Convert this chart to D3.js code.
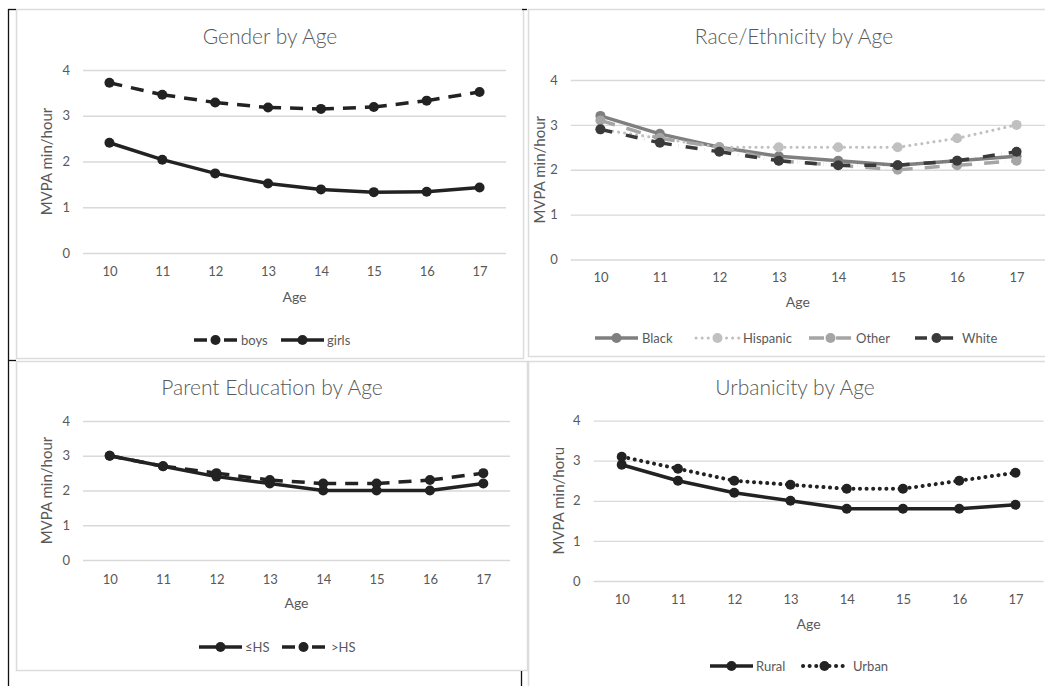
<!DOCTYPE html>
<html>
<head>
<meta charset="utf-8">
<script src="https://cdn.jsdelivr.net/npm/d3@7.9.0/dist/d3.min.js"></script>
<style>
  body { margin: 0; background: #fff; }
  svg { display: block; }
</style>
</head>
<body>
<svg id="chart"></svg>
<script>
// ---- data ----
const ages = [10, 11, 12, 13, 14, 15, 16, 17];
const yTicks = [0, 1, 2, 3, 4];

const boys  = [3.72, 3.46, 3.29, 3.18, 3.15, 3.19, 3.33, 3.52];
const girls = [2.41, 2.04, 1.74, 1.52, 1.39, 1.33, 1.34, 1.43];

const black    = [3.2, 2.8, 2.5, 2.3, 2.2, 2.1, 2.2, 2.3];
const hispanic = [2.9, 2.7, 2.5, 2.5, 2.5, 2.5, 2.7, 3.0];
const other    = [3.1, 2.7, 2.5, 2.2, 2.1, 2.0, 2.1, 2.2];
const white    = [2.9, 2.6, 2.4, 2.2, 2.1, 2.1, 2.2, 2.4];

const hsOrLess = [3.0, 2.7, 2.4, 2.2, 2.0, 2.0, 2.0, 2.2];
const moreHs   = [3.0, 2.7, 2.5, 2.3, 2.2, 2.2, 2.3, 2.5];

const rural = [2.9, 2.5, 2.2, 2.0, 1.8, 1.8, 1.8, 1.9];
const urban = [3.1, 2.8, 2.5, 2.4, 2.3, 2.3, 2.5, 2.7];

const svgWidth = 1045;
const svgHeight = 686;
const font = "Lato, 'Open Sans', sans-serif";
const textColor = "#595959";
const gridColor = "#d9d9d9";
const ink = "#222";

const svg = d3.select("#chart")
    .attr("width", svgWidth)
    .attr("height", svgHeight);

// panel frames (light grey) and the black page rules
const frames = [
    { x: 16, y: 9, w: 507, h: 349 },
    { x: 528, y: 9, w: 530, h: 347 },
    { x: 16, y: 361, w: 511, h: 309 },
    { x: 528, y: 361, w: 530, h: 340 }
];
frames.forEach(f => {
    svg.append("rect")
        .attr("x", f.x + 0.5).attr("y", f.y + 0.5)
        .attr("width", f.w).attr("height", f.h)
        .attr("fill", "#fff")
        .attr("stroke", "#dcdcdc")
        .attr("stroke-width", 1.5);
});

const rules = [
    [8.5, 9, 8.5, 686],
    [8, 9.5, 16, 9.5],
    [8, 360.5, 16, 360.5],
    [521.5, 671, 521.5, 686],
    [522, 9.5, 527, 9.5]
];
rules.forEach(r => {
    svg.append("line")
        .attr("x1", r[0]).attr("y1", r[1]).attr("x2", r[2]).attr("y2", r[3])
        .attr("stroke", "#111").attr("stroke-width", 1.3);
});

const panels = [
    {
        title: "Gender by Age", yLabel: "MVPA min/hour",
        x0: 83, x1: 506, yTop: 70, yBottom: 253,
        titleX: 270, titleY: 44, tickY: 277, ageY: 302, yTitleX: 52, legendY: 340,
        series: [
            { name: "boys", values: boys, color: ink, width: 3.5, dash: "13,9", split: true, legendX: 194, textGap: 4 },
            { name: "girls", values: girls, color: ink, width: 3.5, dash: null, legendX: 281, textGap: 3 }
        ]
    },
    {
        title: "Race/Ethnicity by Age", yLabel: "MVPA min/hour",
        x0: 570.7, x1: 1046.3, yTop: 80, yBottom: 259.5,
        titleX: 794, titleY: 44, tickY: 283, ageY: 307, yTitleX: 545, legendY: 338,
        series: [
            { name: "Black", values: black, color: "#7f7f7f", width: 3.5, dash: null, legendX: 595, textGap: 4 },
            { name: "Hispanic", values: hispanic, color: "#c0c0c0", width: 3, dash: "0.1,6", cap: "round", legendX: 696, textGap: 4 },
            { name: "Other", values: other, color: "#a5a5a5", width: 3.5, dash: "15,6,0.1,6", legendX: 809, textGap: 4 },
            { name: "White", values: white, color: "#3a3a3a", width: 3.5, dash: "12,7,0.1,7", legendX: 915, textGap: 4 }
        ]
    },
    {
        title: "Parent Education by Age", yLabel: "MVPA min/hour",
        x0: 83, x1: 510, yTop: 421, yBottom: 560,
        titleX: 272, titleY: 395, tickY: 585, ageY: 608, yTitleX: 52, legendY: 647,
        series: [
            { name: "\u2264HS", values: hsOrLess, color: ink, width: 3.5, dash: null, legendX: 199, textGap: 3 },
            { name: ">HS", values: moreHs, color: ink, width: 3.5, dash: "13,9", split: true, legendX: 282, textGap: 6 }
        ]
    },
    {
        title: "Urbanicity by Age", yLabel: "MVPA min/horu",
        x0: 593.6, x1: 1043.6, yTop: 420.6, yBottom: 581,
        titleX: 795, titleY: 395, tickY: 605, ageY: 629, yTitleX: 564, legendY: 666,
        series: [
            { name: "Rural", values: rural, color: ink, width: 3.5, dash: null, legendX: 710, textGap: 3 },
            { name: "Urban", values: urban, color: ink, width: 4, dash: "0.1,6.5", cap: "round", legendX: 803, textGap: 7 }
        ]
    }
];

panels.forEach(p => {
    const g = svg.append("g");

    const xScale = d3.scalePoint().domain(ages).range([p.x0, p.x1]).padding(0.5);
    const yScale = d3.scaleLinear().domain([0, 4]).range([p.yBottom, p.yTop]);

    g.append("text")
        .attr("x", p.titleX)
        .attr("y", p.titleY)
        .attr("text-anchor", "middle")
        .style("font-family", font)
        .style("font-size", "21px")
        .style("font-weight", "300")
        .style("fill", textColor)
        .text(p.title);

    const yAxis = d3.axisLeft(yScale)
        .tickValues(yTicks)
        .tickSize(-(p.x1 - p.x0))
        .tickPadding(13)
        .tickFormat(d3.format("d"));

    const yg = g.append("g")
        .attr("transform", `translate(${p.x0}, 0)`)
        .call(yAxis);
    yg.select(".domain").remove();
    yg.selectAll("line").attr("stroke", gridColor).attr("stroke-width", 1.3);
    yg.selectAll("text")
        .style("font-family", font)
        .style("font-size", "13px")
        .style("fill", textColor);

    const xAxis = d3.axisBottom(xScale).tickSize(0).tickPadding(0);
    const xg = g.append("g")
        .attr("transform", `translate(0, ${p.tickY - 10})`)
        .call(xAxis);
    xg.select(".domain").remove();
    xg.selectAll("text")
        .attr("dy", "0.71em")
        .style("font-family", font)
        .style("font-size", "13px")
        .style("fill", textColor);

    g.append("text")
        .attr("x", (p.x0 + Math.min(p.x1, svgWidth)) / 2 + (p.x1 > svgWidth - 5 ? -10 : 0))
        .attr("y", p.ageY)
        .attr("text-anchor", "middle")
        .style("font-family", font)
        .style("font-size", "14px")
        .style("fill", textColor)
        .text("Age");

    g.append("text")
        .attr("transform", "rotate(-90)")
        .attr("x", -(p.yTop + p.yBottom) / 2)
        .attr("y", p.yTitleX)
        .attr("text-anchor", "middle")
        .style("font-family", font)
        .style("font-size", "15px")
        .style("fill", textColor)
        .text(p.yLabel);

    p.series.forEach(s => {
        // Excel restarts the dash pattern at every point, so draw per segment
        const pts = s.values.map((v, i) => [xScale(ages[i]), yScale(v)]);
        g.selectAll(null)
            .data(d3.pairs(pts))
            .enter()
            .append("line")
            .attr("x1", d => d[0][0]).attr("y1", d => d[0][1])
            .attr("x2", d => d[1][0]).attr("y2", d => d[1][1])
            .attr("stroke", s.color)
            .attr("stroke-width", s.width)
            .attr("stroke-linecap", s.cap || "butt")
            .attr("stroke-dasharray", s.dash);

        g.selectAll(null)
            .data(pts)
            .enter()
            .append("circle")
            .attr("cx", d => d[0])
            .attr("cy", d => d[1])
            .attr("r", 5)
            .attr("fill", s.color);

        // legend entry: the sample line is drawn from both ends towards the marker when split
        const lx = s.legendX;
        const halves = s.split
            ? [[lx, lx + 21.5], [lx + 43, lx + 21.5]]
            : [[lx, lx + 43]];
        halves.forEach(h => {
            g.append("line")
                .attr("x1", h[0]).attr("x2", h[1])
                .attr("y1", p.legendY).attr("y2", p.legendY)
                .attr("stroke", s.color)
                .attr("stroke-width", s.width)
                .attr("stroke-linecap", s.cap || "butt")
                .attr("stroke-dasharray", s.dash);
        });
        g.append("circle")
            .attr("cx", lx + 21.5)
            .attr("cy", p.legendY)
            .attr("r", 5)
            .attr("fill", s.color);
        g.append("text")
            .attr("x", lx + 43 + s.textGap)
            .attr("y", p.legendY)
            .attr("dy", "0.35em")
            .style("font-family", font)
            .style("font-size", "13px")
            .style("fill", textColor)
            .text(s.name);
    });
});
</script>
</body>
</html>
